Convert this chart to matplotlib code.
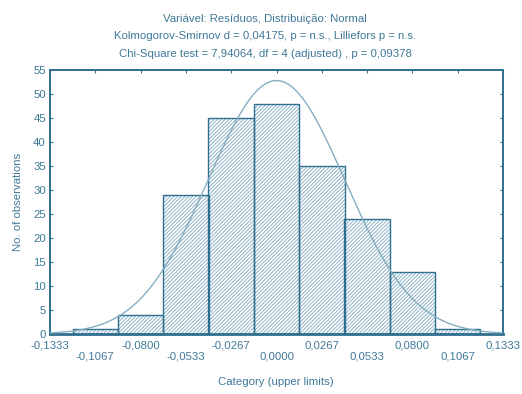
import numpy as np
import matplotlib
matplotlib.use("Agg")
import matplotlib.pyplot as plt

# bin centres and counts
centers = [-0.1067, -0.0800, -0.0533, -0.0267, 0.0000, 0.0267, 0.0533, 0.0800, 0.1067]
counts = [1, 4, 29, 45, 48, 35, 24, 13, 1]
bin_w = 0.02667

# fitted normal curve parameters
mu = 0.0
sd = 0.0403

xticks = [-0.1333, -0.1067, -0.0800, -0.0533, -0.0267, 0.0000,
          0.0267, 0.0533, 0.0800, 0.1067, 0.1333]
yticks = list(range(0, 56, 5))

titles = ["Variável: Resíduos, Distribuição: Normal",
          "Kolmogorov-Smirnov d = 0,04175, p = n.s., Lilliefors p = n.s.",
          "Chi-Square test = 7,94064, df = 4 (adjusted) , p = 0,09378"]

col = "#2f6f8f"
txt = "#3f7898"
fs = 8.2
plt.rcParams["font.family"] = ["Liberation Sans", "DejaVu Sans"]
plt.rcParams["hatch.linewidth"] = 0.7

fig = plt.figure(figsize=(5.22, 3.94), dpi=100)
ax = fig.add_axes([50/522, 1-334/394, 453/522, 264/394])

# hatch layer (light) then outline layer (dark)
ax.bar(centers, counts, width=bin_w, facecolor="white", edgecolor="#8db3c6",
       linewidth=0, hatch="/////////", zorder=2)
ax.bar(centers, counts, width=bin_w, fill=False, edgecolor=col,
       linewidth=1.0, zorder=2.5)

xs = np.linspace(-0.1333, 0.1333, 400)
n = sum(counts)
ys = n * bin_w / (sd * np.sqrt(2*np.pi)) * np.exp(-0.5*((xs-mu)/sd)**2)
ax.plot(xs, ys, color="#86aec2", linewidth=1.0, zorder=3)

ax.set_xlim(-0.1333, 0.1333)
ax.set_ylim(0, 55)
ax.set_yticks(yticks)
ax.set_xticks(xticks)
labs = []
for i, v in enumerate(xticks):
    s = ("%.4f" % v).replace(".", ",")
    if v < 0:
        s = "-" + s[1:]
    labs.append(s if i % 2 == 0 else "\n" + s)
ax.set_xticklabels(labs, linespacing=1.1)
ax.tick_params(axis="both", labelsize=fs, colors=txt, direction="in",
               length=2, width=0.8, top=True, right=True, color=col)
ax.tick_params(axis="x", pad=4.5)
ax.tick_params(axis="y", pad=3)
for s in ax.spines.values():
    s.set_color(col)
    s.set_linewidth(1.4)
ax.spines["bottom"].set_linewidth(2.0)

fig.text(18/522, 1-202/394, "No. of observations", rotation=90, ha="center",
         va="center", fontsize=fs, color=txt)
fig.text(276/522, 1-382/394, "Category (upper limits)", ha="center",
         va="center", fontsize=fs, color=txt)
for t, y in zip(titles, [19, 36, 54]):
    fig.text(265/522, 1-y/394, t, ha="center", va="center", fontsize=fs, color=txt)

fig.savefig("out.png", dpi=100)
